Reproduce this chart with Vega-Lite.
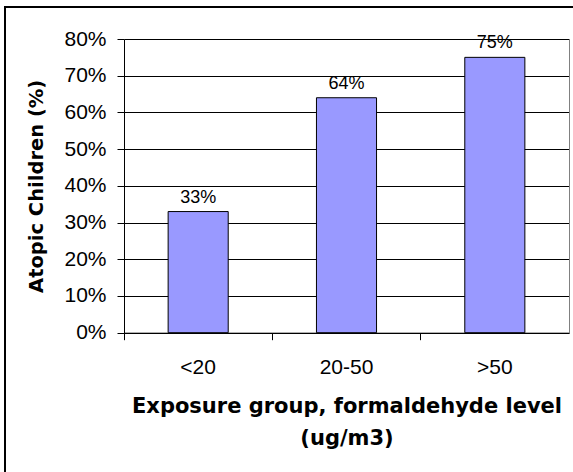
{
  "$schema": "https://vega.github.io/schema/vega-lite/v6.json",
  "width": 600,
  "height": 480,
  "autosize": "none",
  "padding": {"left": 5, "top": 7, "right": 0, "bottom": 0},
  "background": "white",
  "data": {
    "values": [
      {"group": "<20", "share": 0.33},
      {"group": "20-50", "share": 0.64},
      {"group": ">50", "share": 0.75}
    ]
  },
  "encoding": {
    "x": {
      "field": "group",
      "type": "nominal",
      "sort": null,
      "scale": {"range": [119, 564], "paddingInner": 0, "paddingOuter": 0},
      "axis": {
        "orient": "bottom",
        "offset": -154.3,
        "bandPosition": 0,
        "labelAngle": 0,
        "labelFontSize": 21,
        "labelPadding": 17,
        "tickSize": 7,
        "grid": false,
        "title": ["Exposure group, formaldehyde level", "(ug/m3)"],
        "titleFont": "DejaVu Sans",
        "titleFontSize": 21,
        "titleFontWeight": "bold",
        "titleLineHeight": 32,
        "titlePadding": 18
      }
    },
    "y": {
      "field": "share",
      "type": "quantitative",
      "scale": {"domain": [0, 0.8], "range": [325.7, 32], "nice": false},
      "axis": {
        "orient": "left",
        "offset": -119,
        "values": [0, 0.1, 0.2, 0.3, 0.4, 0.5, 0.6, 0.7, 0.8],
        "format": ".0%",
        "labelFontSize": 21,
        "labelPadding": 11,
        "tickSize": 7,
        "grid": true,
        "gridColor": "#000000",
        "gridWidth": 1,
        "title": "Atopic Children (%)",
        "titleFont": "DejaVu Sans",
        "titleFontSize": 19.5,
        "titleFontWeight": "bold",
        "titlePadding": 17
      }
    }
  },
  "layer": [
    {
      "mark": {
        "type": "bar",
        "width": {"band": 0.405},
        "fill": "#9999FF",
        "stroke": "#000000",
        "strokeWidth": 1
      }
    },
    {
      "mark": {
        "type": "text",
        "baseline": "alphabetic",
        "dy": -9,
        "fontSize": 18,
        "color": "#000000"
      },
      "encoding": {
        "text": {"field": "share", "type": "quantitative", "format": ".0%"},
        "y": {
          "field": "share",
          "type": "quantitative",
          "axis": {
            "orient": "right",
            "offset": -36,
            "labels": false,
            "ticks": false,
            "grid": false,
            "title": null,
            "domainColor": "#808080"
          }
        }
      }
    }
  ],
  "config": {
    "font": "Liberation Sans",
    "view": {"stroke": "#000000", "strokeWidth": 2},
    "axis": {
      "domainColor": "#000000",
      "domainWidth": 1,
      "tickColor": "#000000",
      "tickWidth": 1,
      "labelColor": "#000000",
      "titleColor": "#000000",
      "labelFont": "Liberation Sans"
    }
  }
}
